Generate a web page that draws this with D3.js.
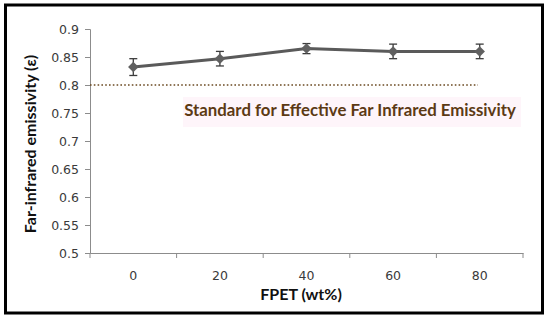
<!DOCTYPE html>
<html>
<head>
<meta charset="utf-8">
<script src="https://cdn.jsdelivr.net/npm/d3@7"></script>
<style>
    html, body { margin: 0; padding: 0; background: #fff; }
    svg { display: block; }
</style>
</head>
<body>
<svg id="chart"></svg>
<script>
// Far-infrared emissivity vs FPET content

const categories = ['0', '20', '40', '60', '80'];
const emissivity = [0.832, 0.847, 0.865, 0.860, 0.860];
const errors = [0.015, 0.013, 0.009, 0.013, 0.013];
const yTicks = [0.5, 0.55, 0.6, 0.65, 0.7, 0.75, 0.8, 0.85, 0.9];
const standardValue = 0.8;
const standardLabel = 'Standard for Effective Far Infrared Emissivity';

const WIDTH = 550;
const HEIGHT = 321;
const margin = { top: 29, right: 27, bottom: 68, left: 90 };

const svg = d3.select('#chart')
    .attr('width', WIDTH)
    .attr('height', HEIGHT);

// outer frame
svg.append('rect')
    .attr('x', 5.5).attr('y', 5)
    .attr('width', 537).attr('height', 308)
    .attr('fill', '#fff')
    .attr('stroke', '#000')
    .attr('stroke-width', 3);

const x = d3.scaleBand()
    .domain(categories)
    .range([margin.left, WIDTH - margin.right]);

const y = d3.scaleLinear()
    .domain([0.5, 0.9])
    .range([HEIGHT - margin.bottom, margin.top]);

// y axis
const yAxis = svg.append('g')
    .attr('transform', `translate(${margin.left},0)`)
    .call(d3.axisLeft(y).tickValues(yTicks).tickSize(5).tickPadding(6).tickFormat(d => String(d)));
yAxis.select('.domain').attr('stroke', '#8c8c8c');
yAxis.selectAll('.tick line').attr('stroke', '#8c8c8c');
yAxis.selectAll('text')
    .attr('fill', '#3a3a3a')
    .style('font-family', 'DejaVu Sans, Verdana, sans-serif')
    .style('font-size', '12.5px');

// x axis with ticks on band boundaries
const xAxis = svg.append('g')
    .attr('transform', `translate(0,${HEIGHT - margin.bottom})`)
    .call(d3.axisBottom(x).tickSize(0).tickPadding(18));
xAxis.select('.domain').attr('stroke', '#8c8c8c');
xAxis.selectAll('text')
    .attr('fill', '#3a3a3a')
    .style('font-family', 'DejaVu Sans, Verdana, sans-serif')
    .style('font-size', '12.5px');

const bounds = categories.map(c => x(c)).concat([x.range()[1]]);
xAxis.selectAll('.bound')
    .data(bounds)
    .join('line')
    .attr('class', 'bound')
    .attr('x1', d => d).attr('x2', d => d)
    .attr('y1', 0).attr('y2', 5)
    .attr('stroke', '#8c8c8c');

// standard label with faint pink backdrop
svg.append('rect')
    .attr('x', 183).attr('y', 97)
    .attr('width', 338).attr('height', 30)
    .attr('fill', '#fef5fa');

svg.append('line')
    .attr('x1', margin.left).attr('x2', 478)
    .attr('y1', y(standardValue)).attr('y2', y(standardValue))
    .attr('stroke', '#6b4a22')
    .attr('stroke-width', 1.6)
    .attr('stroke-dasharray', '1.6 2.2');

svg.append('text')
    .attr('x', 350)
    .attr('y', 116)
    .attr('text-anchor', 'middle')
    .attr('fill', '#5c3a14')
    .style('font-family', 'Lato, sans-serif')
    .style('font-weight', 'bold')
    .style('font-size', '16.8px')
    .text(standardLabel);

// data line
const cx = c => x(c) + x.bandwidth() / 2;

svg.append('path')
    .datum(categories.map((c, i) => [cx(c), y(emissivity[i])]))
    .attr('d', d3.line())
    .attr('fill', 'none')
    .attr('stroke', '#5a5a5a')
    .attr('stroke-width', 3);

// error bars
const eb = svg.append('g')
    .selectAll('g')
    .data(categories)
    .join('g')
    .attr('stroke', '#3c3c3c')
    .attr('stroke-width', 1.3);
eb.append('line')
    .attr('x1', cx).attr('x2', cx)
    .attr('y1', (c, i) => y(emissivity[i] + errors[i]))
    .attr('y2', (c, i) => y(emissivity[i] - errors[i]));
eb.append('line')
    .attr('x1', c => cx(c) - 4).attr('x2', c => cx(c) + 4)
    .attr('y1', (c, i) => y(emissivity[i] + errors[i]))
    .attr('y2', (c, i) => y(emissivity[i] + errors[i]));
eb.append('line')
    .attr('x1', c => cx(c) - 4).attr('x2', c => cx(c) + 4)
    .attr('y1', (c, i) => y(emissivity[i] - errors[i]))
    .attr('y2', (c, i) => y(emissivity[i] - errors[i]));

// diamond markers
svg.append('g')
    .selectAll('path')
    .data(categories)
    .join('path')
    .attr('transform', (c, i) => `translate(${cx(c)},${y(emissivity[i])})`)
    .attr('d', d3.symbol(d3.symbolDiamond2, 70))
    .attr('fill', '#606060');

// axis titles
svg.append('text')
    .attr('transform', `translate(36,${(margin.top + HEIGHT - margin.bottom) / 2 + 3}) rotate(-90)`)
    .attr('text-anchor', 'middle')
    .attr('fill', '#111')
    .style('font-family', 'Lato, sans-serif')
    .style('font-weight', 'bold')
    .style('font-size', '16px')
    .text('Far-infrared emissivity (ε)');

svg.append('text')
    .attr('x', 301)
    .attr('y', 300)
    .attr('text-anchor', 'middle')
    .attr('fill', '#111')
    .style('font-family', 'Lato, sans-serif')
    .style('font-weight', 'bold')
    .style('font-size', '16px')
    .text('FPET (wt%)');
</script>
</body>
</html>
